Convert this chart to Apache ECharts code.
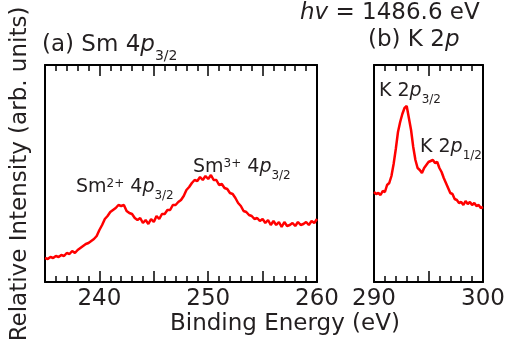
<!DOCTYPE html>
<html>
<head>
<meta charset="utf-8">
<script src="https://cdn.jsdelivr.net/npm/echarts@6/dist/echarts.min.js"></script>
<style>
  html, body { margin: 0; padding: 0; background: #fff; }
  #chart { width: 508px; height: 347px; }
</style>
</head>
<body>
<div id="chart"></div>
<script>
const FONT = "'DejaVu Sans'";
const TEXT_COLOR = "#231f20";
const LINE_COLOR = "#ff0000";

// (a) Sm 4p3/2 spectrum: sampling grid (eV) and intensity (arb. units)
const smEnergyStart = 235;
const smEnergyStep = 0.25;
const smIntensity = [
  24, 23, 25, 24, 26, 25, 27, 26,
  29, 28, 31, 29, 32, 34, 36, 38,
  39, 41, 43, 46, 52, 57, 63, 66,
  70, 72, 74, 77, 76, 77, 71, 69,
  68, 64, 62, 64, 59, 62, 58, 63,
  60, 66, 63, 68, 68, 72, 72, 77,
  77, 80, 82, 86, 92, 95, 99, 102,
  101, 105, 102, 106, 103, 107, 102, 102,
  97, 98, 94, 93, 89, 88, 84, 79,
  76, 71, 70, 67, 66, 63, 64, 61,
  63, 59, 62, 57, 61, 57, 60, 55,
  60, 56, 57, 59, 56, 60, 57, 58,
  60, 57, 61, 59, 63,
];

// (b) K 2p spectrum
const kEnergyStart = 290;
const kEnergyStep = 0.2;
const kIntensity = [
  90, 88, 89, 87, 91,
  90, 97, 99, 106, 118,
  133, 150, 160, 168, 174,
  176, 164, 152, 135, 122,
  114, 112, 109, 114, 117,
  120, 121, 122, 119, 120,
  114, 110, 104, 99, 94,
  89, 88, 83, 82, 79,
  80, 77, 81, 78, 80,
  77, 79, 76, 77, 74,
  75,
];

// labelled ticks on the binding energy axes
const smTickLabels = [240, 250, 260];
const kTickLabels = [290, 300];

const INTENSITY_MAX = 217;

function toPoints(start, step, values) {
  return values.map((v, i) => [start + i * step, v]);
}

function xAxis(gridIndex, position, min, max, labels) {
  return {
    type: "value",
    gridIndex,
    position,
    min,
    max,
    interval: 5,
    axisLine: { show: true, onZero: false, lineStyle: { color: "#000", width: 2 } },
    axisTick: { show: true, inside: true, length: 11, lineStyle: { color: "#000", width: 1.5 } },
    minorTick: { show: true, splitNumber: 5, length: 6, lineStyle: { color: "#000", width: 1.5 } },
    splitLine: { show: false },
    minorSplitLine: { show: false },
    axisLabel: labels
      ? {
          show: true,
          margin: 6,
          color: TEXT_COLOR,
          fontFamily: FONT,
          fontSize: 23,
          showMinLabel: true,
          showMaxLabel: true,
          formatter: (v) => (labels.includes(v) ? String(v) : ""),
        }
      : { show: false },
  };
}

function yAxis(gridIndex, position) {
  return {
    type: "value",
    gridIndex,
    position,
    min: 0,
    max: INTENSITY_MAX,
    axisLine: { show: true, onZero: false, lineStyle: { color: "#000", width: 2 } },
    axisTick: { show: false },
    axisLabel: { show: false },
    splitLine: { show: false },
  };
}

// rich text: n = normal, i = italic, u = superscript, s = subscript
const base = { color: TEXT_COLOR, fontFamily: FONT, fontWeight: "normal" };
const richBig = {
  n: { ...base, fontSize: 23, lineHeight: 23, verticalAlign: "top" },
  i: { ...base, fontSize: 23, lineHeight: 23, verticalAlign: "top", fontStyle: "italic" },
  s: { ...base, fontSize: 14, lineHeight: 29, verticalAlign: "bottom" },
};
const richSmall = {
  n: { ...base, fontSize: 19, lineHeight: 19, verticalAlign: "top" },
  i: { ...base, fontSize: 19, lineHeight: 19, verticalAlign: "top", fontStyle: "italic" },
  u: { ...base, fontSize: 12, lineHeight: 12, verticalAlign: "top" },
  s: { ...base, fontSize: 12, lineHeight: 24, verticalAlign: "bottom" },
};

function label(text, left, top, rich) {
  return { text, left, top, padding: 0, textStyle: { fontWeight: "normal", rich } };
}

const chart = echarts.init(document.getElementById("chart"));

chart.setOption({
  animation: false,
  backgroundColor: "#fff",
  title: [
    label("{n|(a) Sm 4}{i|p}{s|3/2}", 42, 34, richBig),
    label("{i|hv}{n| = 1486.6 eV}", 300, 2, richBig),
    label("{n|(b) K 2}{i|p}", 368, 29, richBig),
    label("{n|Binding Energy (eV)}", 170, 313, richBig),
    label("{n|Sm}{u|2+}{n| 4}{i|p}{s|3/2}", 76, 178, richSmall),
    label("{n|Sm}{u|3+}{n| 4}{i|p}{s|3/2}", 193, 158, richSmall),
    label("{n|K 2}{i|p}{s|3/2}", 379, 82, richSmall),
    label("{n|K 2}{i|p}{s|1/2}", 420, 138, richSmall),
  ],
  graphic: [
    {
      type: "text",
      x: 20,
      y: 174,
      rotation: Math.PI / 2,
      style: {
        text: "Relative Intensity (arb. units)",
        font: "23px " + FONT,
        fill: TEXT_COLOR,
        align: "center",
        verticalAlign: "middle",
      },
    },
  ],
  grid: [
    { left: 45, top: 65, width: 272, height: 217 },
    { left: 374, top: 65, width: 109, height: 217 },
  ],
  xAxis: [
    xAxis(0, "bottom", 235, 260, smTickLabels),
    xAxis(0, "top", 235, 260, null),
    xAxis(1, "bottom", 290, 300, kTickLabels),
    xAxis(1, "top", 290, 300, null),
  ],
  yAxis: [yAxis(0, "left"), yAxis(0, "right"), yAxis(1, "left"), yAxis(1, "right")],
  series: [
    {
      type: "line",
      xAxisIndex: 0,
      yAxisIndex: 0,
      data: toPoints(smEnergyStart, smEnergyStep, smIntensity),
      symbol: "none",
      lineStyle: { color: LINE_COLOR, width: 2.5 },
      itemStyle: { color: LINE_COLOR },
    },
    {
      type: "line",
      xAxisIndex: 2,
      yAxisIndex: 2,
      data: toPoints(kEnergyStart, kEnergyStep, kIntensity),
      symbol: "none",
      lineStyle: { color: LINE_COLOR, width: 2.5 },
      itemStyle: { color: LINE_COLOR },
    },
  ],
});
</script>
</body>
</html>
